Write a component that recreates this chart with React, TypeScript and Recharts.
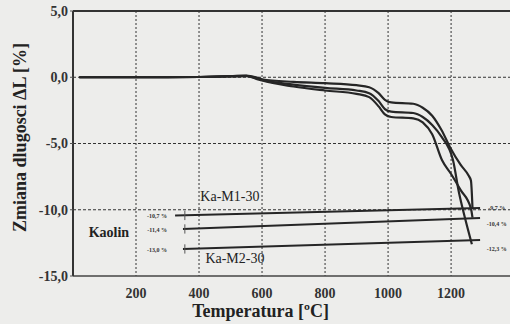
import React from "react";
import {
  Line,
  LineChart,
  ReferenceDot,
  ReferenceLine,
  XAxis,
  YAxis,
} from "recharts";

// heating curves, temperature [°C] vs. length change [%]
const tempsA = [20, 100, 200, 300, 400, 500, 550, 580, 600, 700, 800, 900, 940, 970, 990, 1010, 1080, 1110, 1140, 1170, 1197, 1230, 1255, 1263, 1268];
const dlA = [0, 0, 0, 0, 0.02, 0.08, 0.12, 0, -0.15, -0.35, -0.45, -0.6, -0.75, -1.2, -1.7, -1.9, -2.0, -2.3, -2.9, -4.0, -5.3, -6.6, -7.4, -7.8, -9.9];

const tempsB = [20, 100, 200, 300, 400, 500, 550, 580, 600, 700, 800, 900, 940, 970, 990, 1010, 1080, 1110, 1140, 1170, 1206, 1225, 1245, 1266];
const dlB = [0, 0, 0, 0, 0.02, 0.08, 0.1, -0.05, -0.2, -0.55, -0.8, -1.0, -1.2, -1.8, -2.4, -2.6, -2.7, -3.0, -3.6, -4.5, -6.25, -8.7, -10.7, -12.6];

const tempsC = [20, 100, 200, 300, 400, 500, 550, 580, 600, 700, 800, 900, 940, 970, 990, 1010, 1080, 1110, 1140, 1171, 1200, 1230, 1263, 1268];
const dlC = [0, 0, 0, 0, 0.02, 0.06, 0.08, -0.1, -0.25, -0.7, -1.0, -1.25, -1.5, -2.2, -2.8, -3.0, -3.1, -3.4, -4.3, -6.25, -7.3, -8.5, -9.9, -10.6];

// straight lines Ka-M1-30, Kaolin, Ka-M2-30
const lineTemps = [[324, 1292], [349, 1292], [349, 1292]];
const lineVals = [[-10.43, -9.87], [-11.45, -10.62], [-12.96, -12.28]];

const leftLabels = ["-10,7 %", "-11,4 %", "-13,0 %"];
const leftLabelVals = [-10.45, -11.5, -13.0];
const rightLabels = ["-9,7 %", "-10,4 %", "-12,3 %"];
const rightLabelVals = [-9.85, -11.05, -12.95];

const seriesNames = ["Ka-M1-30", "Kaolin", "Ka-M2-30"];
const seriesNameTemps = [498, 114, 514];
const seriesNameVals = [-8.96, -11.68, -13.64];

const xTicks = [200, 400, 600, 800, 1000, 1200];
const yTicks = [5, 0, -5, -10, -15];
const yGrid = [0, -5, -10];

const xMax = 1387;

const toRows = (ts: number[], vs: number[]) => ts.map((t, i) => ({ t, v: vs[i] }));

const curves = [toRows(tempsA, dlA), toRows(tempsB, dlB), toRows(tempsC, dlC)];
const straight = lineTemps.map((ts, i) => toRows(ts, lineVals[i]));

const ink = "#262626";

export default function App() {
  return (
    <div
      style={{
        position: "absolute",
        left: 0,
        top: 0,
        width: 510,
        height: 324,
        background: "#ededeb",
        fontFamily: "'Liberation Serif', serif",
      }}
    >
      <LineChart
        width={510}
        height={324}
        data={curves[0]}
        margin={{ top: 11, right: 0, bottom: 18, left: 0 }}
      >
        <XAxis
          type="number"
          dataKey="t"
          domain={[0, xMax]}
          ticks={xTicks}
          height={30}
          tickLine={false}
          tickMargin={6}
          axisLine={{ stroke: "#444", strokeWidth: 1.5 }}
          tick={{ fill: "#333", fontSize: 14, fontWeight: "bold" }}
          label={{
            value: "Temperatura [ºC]",
            position: "bottom",
            offset: -2,
            dx: -31,
            fill: "#222",
            fontSize: 18,
            fontWeight: "bold",
          }}
        />
        <YAxis
          type="number"
          domain={[-15, 5]}
          ticks={yTicks}
          width={73}
          tickSize={3}
          tickMargin={2}
          tickFormatter={(n: number) => n.toFixed(1).replace(".", ",")}
          axisLine={{ stroke: "#333", strokeWidth: 2 }}
          tickLine={{ stroke: "#555" }}
          tick={{ fill: "#333", fontSize: 14, fontWeight: "bold" }}
          label={{
            value: "Zmiana dlugosci ΔL [%]",
            angle: -90,
            position: "insideLeft",
            textAnchor: "middle",
            offset: 20,
            dy: -6,
            fill: "#222",
            fontSize: 18,
            fontWeight: "bold",
          }}
        />
        {xTicks.map((t) => (
          <ReferenceLine
            key={"gx" + t}
            segment={[{ x: t, y: 5 }, { x: t, y: -15 }]}
            stroke="#333"
            strokeDasharray="2 2"
          />
        ))}
        {yGrid.map((v) => (
          <ReferenceLine
            key={"gy" + v}
            segment={[{ x: 0, y: v }, { x: xMax, y: v }]}
            stroke="#333"
            strokeDasharray="3 2"
          />
        ))}
        <ReferenceLine y={5} stroke="#333" strokeWidth={2} />
        <Line
          dataKey="v"
          type="monotone"
          stroke={ink}
          strokeWidth={2.2}
          dot={false}
          isAnimationActive={false}
        />
        {curves.slice(1).map((rows, i) => (
          <Line
            key={"c" + i}
            data={rows}
            dataKey="v"
            type="monotone"
            stroke={ink}
            strokeWidth={2.2}
            dot={false}
            isAnimationActive={false}
          />
        ))}
        {straight.map((rows, i) => (
          <Line
            key={"s" + i}
            data={rows}
            dataKey="v"
            type="linear"
            stroke={ink}
            strokeWidth={2}
            dot={false}
            isAnimationActive={false}
          />
        ))}
        {lineVals.map((vals, i) => (
          <ReferenceLine
            key={"tick" + i}
            segment={[
              { x: 355, y: vals[0] + 0.35 },
              { x: 355, y: vals[0] - 0.35 },
            ]}
            stroke="#555"
          />
        ))}
        {leftLabels.map((txt, i) => (
          <ReferenceDot
            key={"ll" + i}
            x={267}
            y={leftLabelVals[i]}
            r={0}
            fill="none"
            stroke="none"
            label={{ value: txt, position: "center", fontSize: 6, fill: "#333", fontWeight: "bold" }}
          />
        ))}
        {rightLabels.map((txt, i) => (
          <ReferenceDot
            key={"rl" + i}
            x={1345}
            y={rightLabelVals[i]}
            r={0}
            fill="none"
            stroke="none"
            label={{ value: txt, position: "center", fontSize: 6, fill: "#333", fontWeight: "bold" }}
          />
        ))}
        {seriesNames.map((txt, i) => (
          <ReferenceDot
            key={"sn" + i}
            x={seriesNameTemps[i]}
            y={seriesNameVals[i]}
            r={0}
            fill="none"
            stroke="none"
            label={{
              value: txt,
              position: "center",
              fontSize: 14,
              fill: "#222",
              fontWeight: i === 1 ? "bold" : "normal",
            }}
          />
        ))}
      </LineChart>
    </div>
  );
}
